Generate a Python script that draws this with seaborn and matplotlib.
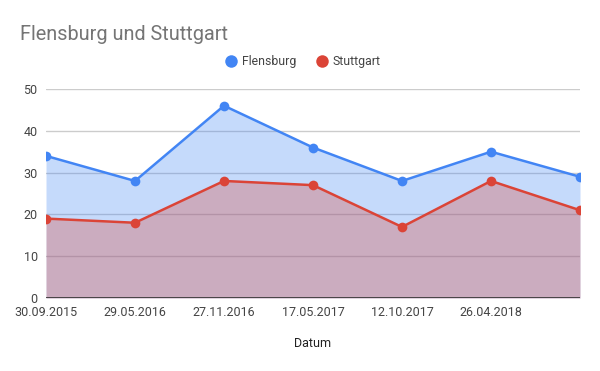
import matplotlib
matplotlib.use("Agg")
import matplotlib.pyplot as plt
import seaborn as sns
import pandas as pd

dates = ["30.09.2015", "29.05.2016", "27.11.2016", "17.05.2017", "12.10.2017", "26.04.2018", "10.10.2018"]
tick_labels = ["30.09.2015", "29.05.2016", "27.11.2016", "17.05.2017", "12.10.2017", "26.04.2018", ""]
flensburg = [34, 28, 46, 36, 28, 35, 29]
stuttgart = [19, 18, 28, 27, 17, 28, 21]

sns.set_theme(style="white")
plt.rcParams['font.family'] = ['Roboto', 'DejaVu Sans']

pos = list(range(len(dates)))
df = pd.DataFrame({
    "pos": pos * 2,
    "Wert": flensburg + stuttgart,
    "Stadt": ["Flensburg"] * len(dates) + ["Stuttgart"] * len(dates),
})
palette = {"Flensburg": "#4285F4", "Stuttgart": "#DB4437"}

fig = plt.figure(figsize=(6, 3.71), dpi=100)
ax = fig.add_axes([46/600, 1-298/371, (580-46)/600, (298-89)/371])

ax.fill_between(pos, flensburg, 0, color="#4285F4", alpha=0.3, linewidth=0, zorder=1)
ax.fill_between(pos, stuttgart, 0, color="#DB4437", alpha=0.3, linewidth=0, zorder=1.1)

sns.lineplot(data=df, x="pos", y="Wert", hue="Stadt", palette=palette, marker="o",
             markersize=7, markeredgewidth=0, linewidth=1.8, ax=ax, legend=False, zorder=3)

ax.set_xlim(0, 6)
ax.set_ylim(0, 50)
ax.set_yticks([0, 10, 20, 30, 40, 50])
ax.set_xticks(pos)
ax.set_xticklabels(tick_labels)
ax.grid(axis="y", color="#cccccc", linewidth=1, zorder=0)
ax.set_axisbelow(True)
for s in ax.spines.values():
    s.set_visible(False)
ax.axhline(0, color="#333333", linewidth=1.2, zorder=4)
ax.tick_params(axis="both", length=0, labelsize=9, colors="#444444")
ax.tick_params(axis="x", pad=6)
ax.tick_params(axis="y", pad=6)
ax.set_xlabel("Datum", fontsize=9, color="#222222", labelpad=13)
ax.set_ylabel("")
for lbl in ax.get_xticklabels():
    lbl.set_clip_on(False)

fig.text(20/600, 1-35/371, "Flensburg und Stuttgart", fontsize=14.3, color="#757575", va="center", ha="left")

# legend
from matplotlib.lines import Line2D
handles = [Line2D([], [], marker="o", linestyle="none", markersize=9, markeredgewidth=0, color=palette[k]) for k in ["Flensburg", "Stuttgart"]]
fig.legend(handles, ["Flensburg", "Stuttgart"], loc="center", bbox_to_anchor=(302/600, 1-62/371), ncol=2,
           frameon=False, fontsize=8.8, labelcolor="#444444", handletextpad=0.3, columnspacing=1.5, handlelength=1.2)

fig.savefig("out.png", dpi=100)
